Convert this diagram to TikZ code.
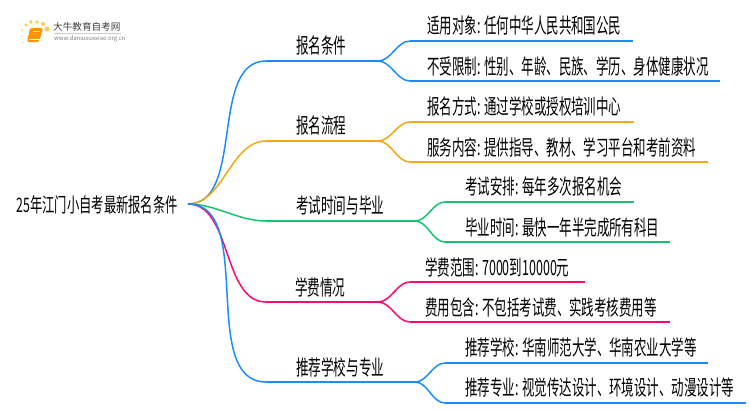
\documentclass[tikz,border=0pt]{standalone}
\usepackage{fontspec}
\setmainfont{Noto Sans CJK SC}
\usepackage{tikz}
\usetikzlibrary{calc}
\definecolor{lineblue}{HTML}{1A8CFF}
\definecolor{lineorange}{HTML}{F5A80F}
\definecolor{linegreen}{HTML}{14C46E}
\definecolor{linepink}{HTML}{FF0A6C}
\tikzset{
	rootlabel/.style={anchor=east,inner sep=0pt,xscale=0.615,font=\fontsize{20}{20}\selectfont},
	branchlabel/.style={anchor=west,inner sep=0pt,xscale=0.6,font=\fontsize{21}{21}\selectfont},
	leaflabel/.style={anchor=west,inner sep=0pt,xscale=0.594,font=\fontsize{21}{21}\selectfont},
	curve/.style={line width=1.5pt,out=0,in=180,looseness=0.9},
	under/.style={line width=2pt}
}
\begin{document}
\begin{tikzpicture}[x=1pt,y=-1pt]
			\useasboundingbox (0,0) rectangle (750,410);
			% logo
			\fill [orange!60!yellow!70] (26,25) circle (1.7) (31,22) circle (1.9) (37,22) circle (1.9) (43,24) circle (2) (47,29) circle (2.5);
			\fill [orange!60!yellow!35] (22,30) circle (1.3) (22,36) circle (1.1) (23,42) circle (1);
			\fill [orange!85!yellow,rounded corners=1.5] (30,28) -- (43,28) -- (39,42) -- (27,42) -- cycle;
			\draw [white,line width=0.7pt] (29,39.5) -- (39.5,39.5);
			\draw [white!70!orange,line width=0.6pt] (33,31.5) -- (40,31.5);
			\node (logotitle) [anchor=west,inner sep=0pt,text=black!75,font=\fontsize{9.6}{10}\selectfont] at (53,27) {大牛教育自考网};
			\node (logourl) [anchor=west,inner sep=0pt,text=black!50,font=\fontsize{5.9}{6}\selectfont] at (54,38.5) {www.daniuxuexiao.org.cn};
			\draw [black!20,line width=0.5pt] (54,33) -- (121,33);
			% root
			\node (root) [rootlabel] at (178,205) {25年江门小自考最新报名条件};
			\coordinate (hub) at (188,204);
			% branches
			\coordinate (b1a) at (266,61);
			\coordinate (b1b) at (378,61);
			\coordinate (b2a) at (266,141);
			\coordinate (b2b) at (378,141);
			\coordinate (b3a) at (266,221);
			\coordinate (b3b) at (415,221);
			\coordinate (b4a) at (266,302);
			\coordinate (b4b) at (378,302);
			\coordinate (b5a) at (266,382);
			\coordinate (b5b) at (415,382);
			\draw [curve,lineblue] (hub) to (b1a);
			\draw [curve,lineorange] (hub) to (b2a);
			\draw [curve,linegreen] (hub) to (b3a);
			\draw [curve,linepink] (hub) to (b4a);
			\draw [curve,lineblue] (hub) to (b5a);
			\draw [under,lineblue] (b1a) -- (b1b);
			\draw [under,lineorange] (b2a) -- (b2b);
			\draw [under,linegreen] (b3a) -- (b3b);
			\draw [under,linepink] (b4a) -- (b4b);
			\draw [under,lineblue] (b5a) -- (b5b);
			\node (branch1) [branchlabel] at (296,46) {报名条件};
			\node (branch2) [branchlabel] at (296,126) {报名流程};
			\node (branch3) [branchlabel] at (296,206) {考试时间与毕业};
			\node (branch4) [branchlabel] at (295,287) {学费情况};
			\node (branch5) [branchlabel] at (296,367) {推荐学校与专业};
			% leaves
			\coordinate (l1a) at (410,41);
			\coordinate (l1b) at (633,41);
			\coordinate (l2a) at (410,81);
			\coordinate (l2b) at (720,81);
			\coordinate (l3a) at (410,122);
			\coordinate (l3b) at (634,122);
			\coordinate (l4a) at (410,162);
			\coordinate (l4b) at (708,162);
			\coordinate (l5a) at (445,202);
			\coordinate (l5b) at (634,202);
			\coordinate (l6a) at (445,242);
			\coordinate (l6b) at (670,242);
			\coordinate (l7a) at (410,282);
			\coordinate (l7b) at (585,282);
			\coordinate (l8a) at (410,322);
			\coordinate (l8b) at (670,322);
			\coordinate (l9a) at (445,363);
			\coordinate (l9b) at (708,363);
			\coordinate (l10a) at (445,403);
			\coordinate (l10b) at (746,403);
			\draw [curve,lineblue] (b1b) to (l1a);
			\draw [curve,lineblue] (b1b) to (l2a);
			\draw [curve,lineorange] (b2b) to (l3a);
			\draw [curve,lineorange] (b2b) to (l4a);
			\draw [curve,linegreen] (b3b) to (l5a);
			\draw [curve,linegreen] (b3b) to (l6a);
			\draw [curve,linepink] (b4b) to (l7a);
			\draw [curve,linepink] (b4b) to (l8a);
			\draw [curve,lineblue] (b5b) to (l9a);
			\draw [curve,lineblue] (b5b) to (l10a);
			\draw [under,lineblue] (l1a) -- (l1b);
			\draw [under,lineblue] (l2a) -- (l2b);
			\draw [under,lineorange] (l3a) -- (l3b);
			\draw [under,lineorange] (l4a) -- (l4b);
			\draw [under,linegreen] (l5a) -- (l5b);
			\draw [under,linegreen] (l6a) -- (l6b);
			\draw [under,linepink] (l7a) -- (l7b);
			\draw [under,linepink] (l8a) -- (l8b);
			\draw [under,lineblue] (l9a) -- (l9b);
			\draw [under,lineblue] (l10a) -- (l10b);
			\node (leaf1) [leaflabel] at (427,26) {适用对象: 任何中华人民共和国公民};
			\node (leaf2) [leaflabel] at (427,66) {不受限制: 性别、年龄、民族、学历、身体健康状况};
			\node (leaf3) [leaflabel] at (427,106) {报名方式: 通过学校或授权培训中心};
			\node (leaf4) [leaflabel] at (427,147) {服务内容: 提供指导、教材、学习平台和考前资料};
			\node (leaf5) [leaflabel] at (465,186) {考试安排: 每年多次报名机会};
			\node (leaf6) [leaflabel] at (465,227) {毕业时间: 最快一年半完成所有科目};
			\node (leaf7) [leaflabel] at (425,267) {学费范围: 7000到10000元};
			\node (leaf8) [leaflabel] at (425,307) {费用包含: 不包括考试费、实践考核费用等};
			\node (leaf9) [leaflabel] at (465,347) {推荐学校: 华南师范大学、华南农业大学等};
			\node (leaf10) [leaflabel] at (465,387) {推荐专业: 视觉传达设计、环境设计、动漫设计等};
\end{tikzpicture}
\end{document}
